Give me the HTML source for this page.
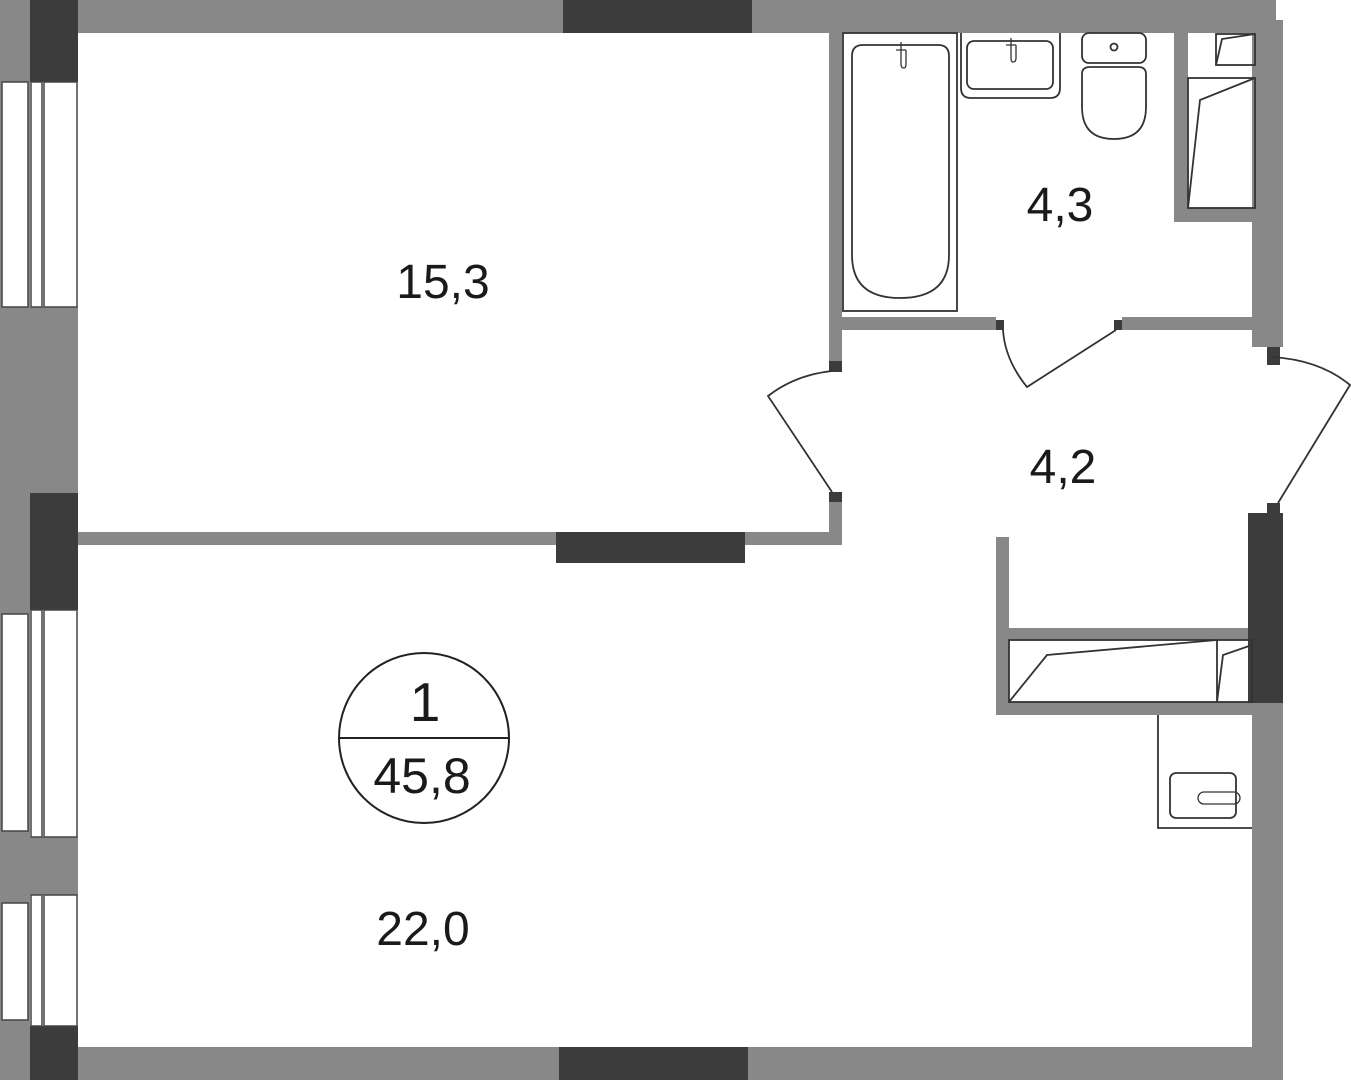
<!DOCTYPE html>
<html><head><meta charset="utf-8"><style>html,body{margin:0;padding:0;background:#fff}svg{display:block}text{font-family:"Liberation Sans",sans-serif;fill:#1a1a1a}</style></head>
<body>
<svg width="1351" height="1080" viewBox="0 0 1351 1080" xmlns="http://www.w3.org/2000/svg">
<g fill="#888">
<rect x="0" y="0" width="1276" height="33"/>
<rect x="0" y="0" width="30" height="1080"/>
<rect x="30" y="307" width="48" height="186"/>
<rect x="30" y="837" width="48" height="58"/>
<rect x="78" y="1047" width="1205" height="33"/>
<rect x="1252" y="20" width="31" height="327"/>
<rect x="1252" y="703" width="31" height="377"/>
<rect x="829" y="33" width="13" height="328"/>
<rect x="842" y="317" width="154" height="13"/>
<rect x="1122" y="317" width="130" height="13"/>
<rect x="1174" y="33" width="14" height="189"/>
<rect x="1174" y="208" width="80" height="14"/>
<rect x="829" y="502" width="13" height="43"/>
<rect x="78" y="532" width="764" height="13"/>
<rect x="996" y="537" width="13" height="178"/>
<rect x="1009" y="628" width="243" height="12"/>
<rect x="996" y="702" width="256" height="13"/>
</g>
<g fill="#3c3c3c">
<rect x="30" y="0" width="48" height="82"/>
<rect x="30" y="493" width="48" height="117"/>
<rect x="30" y="1026" width="48" height="54"/>
<rect x="563" y="0" width="189" height="33"/>
<rect x="556" y="532" width="189" height="31"/>
<rect x="559" y="1047" width="189" height="33"/>
<rect x="1248" y="513" width="35" height="190"/>
<rect x="829" y="361" width="13" height="11"/>
<rect x="829" y="492" width="13" height="10"/>
<rect x="996" y="320" width="8" height="10"/>
<rect x="1114" y="320" width="8" height="10"/>
<rect x="1267" y="347" width="13" height="18"/>
<rect x="1267" y="503" width="13" height="12"/>
</g>
<g fill="#fff" stroke="#444" stroke-width="1.5">
<rect x="2" y="82" width="26" height="225"/>
<rect x="31" y="82" width="11" height="225"/>
<rect x="44" y="82" width="33" height="225"/>
<rect x="2" y="614" width="26" height="217"/>
<rect x="31" y="610" width="11" height="227"/>
<rect x="44" y="610" width="33" height="227"/>
<rect x="2" y="903" width="26" height="117"/>
<rect x="31" y="895" width="11" height="131"/>
<rect x="44" y="895" width="33" height="131"/>
</g>
<g fill="none" stroke="#333" stroke-width="1.8">
<path d="M832 371 Q795 375 768 396 L832 492"/>
<path d="M1003 330 Q1005 360 1027 387 L1116 330"/>
<path d="M1272 357 Q1320 360 1350 385 L1278 503"/>
<rect x="843" y="33" width="114" height="278"/>
<path d="M852 56 Q852 45 863 45 L938 45 Q949 45 949 56 L949 255 Q949 298 900 298 Q852 298 852 255 Z"/>
<path d="M961 33 L961 88 Q961 98 971 98 L1050 98 Q1060 98 1060 88 L1060 33"/>
<rect x="967" y="41" width="86" height="48" rx="7"/>
<rect x="1082" y="33" width="64" height="30" rx="7"/>
<path d="M1082 74 Q1082 67 1090 67 L1138 67 Q1146 67 1146 74 L1146 107 Q1146 139 1114 139 Q1082 139 1082 107 Z"/>
<circle cx="1114" cy="47" r="3.5"/>
<rect x="1216" y="34" width="39" height="31"/>
<path d="M1216 65 L1222 39 L1255 34"/>
<rect x="1188" y="78" width="67" height="130"/>
<path d="M1188 208 L1200 100 L1255 78"/>
<rect x="1009" y="640" width="243" height="62"/>
<path d="M1009 702 L1047 655 L1217 640 M1217 640 L1217 702 M1217 702 L1223 655 L1252 645"/>
<path d="M1158 715 L1158 828 L1252 828"/>
<rect x="1170" y="773" width="66" height="45" rx="6"/>
<path d="M1204 792 L1234 792 A6 6 0 0 1 1234 804 L1204 804 A6 6 0 0 1 1204 792Z" stroke-width="1.3"/>
<path d="M896 50 L906 50 M901 42 L901 64 Q901 68 904 68 Q906 68 906 64 L906 50" stroke-width="1.3"/>
<path d="M1006 45 L1016 45 M1011 38 L1011 58 Q1011 62 1013 62 Q1016 62 1016 58 L1016 45" stroke-width="1.3"/>
</g>
<circle cx="424" cy="738" r="85" fill="none" stroke="#222" stroke-width="2"/>
<line x1="339" y1="738" x2="509" y2="738" stroke="#222" stroke-width="2"/>
<text x="425" y="721" font-size="55" text-anchor="middle">1</text>
<text x="422" y="793" font-size="50" text-anchor="middle">45,8</text>
<text x="443" y="298" font-size="48" text-anchor="middle">15,3</text>
<text x="1060" y="221" font-size="48" text-anchor="middle">4,3</text>
<text x="1063" y="483" font-size="48" text-anchor="middle">4,2</text>
<text x="423" y="945" font-size="48" text-anchor="middle">22,0</text>
</svg>
</body></html>
